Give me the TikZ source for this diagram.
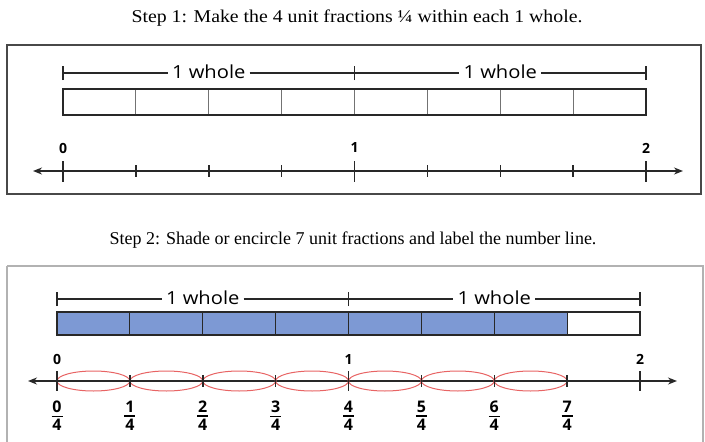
\documentclass[tikz,border=0pt]{standalone}
\usepackage{fontspec}
\setmainfont{Liberation Serif}
\newfontfamily\titlefont[FakeStretch=1.1]{Liberation Serif}
\newfontfamily\titlefontb{Liberation Serif}
\newfontfamily\labfont[FakeStretch=1.12]{Open Sans}
\newfontfamily\numfont{Open Sans}
\usetikzlibrary{arrows.meta}
\definecolor{barblue}{RGB}{125,153,212}
\definecolor{ringred}{RGB}{232,100,100}
\definecolor{linegray}{RGB}{40,40,40}
\newcommand\quarter[1]{\vbox{\hbox to 11pt{\hss#1\hss}\kern2.6pt\hrule height 1.2pt\kern2.6pt\hbox to 11pt{\hss 4\hss}}}
\begin{document}
\begin{tikzpicture}[x=1pt,y=-1pt,
  title/.style={font=\titlefont\fontsize{18}{21}\selectfont, inner sep=0pt},
  titleb/.style={font=\titlefontb\fontsize{18}{21}\selectfont, inner sep=0pt},
  panel/.style={draw=linegray!85, line width=1.8pt},
  panelb/.style={draw=black!30, line width=1.4pt},
  wholelab/.style={font=\labfont\fontsize{18}{20}\selectfont, inner xsep=4pt, inner ysep=0pt},
  ln/.style={draw=linegray, line width=1.5pt},
  thin/.style={draw=black!55, line width=1.1pt},
  arr/.style={ln, {Stealth[length=9pt,width=7pt]}-{Stealth[length=9pt,width=7pt]}},
  numlab/.style={font=\numfont\bfseries\fontsize{14}{16}\selectfont, inner sep=0pt},
  fraclab/.style={font=\numfont\bfseries\fontsize{16}{17}\selectfont, inner sep=0pt},
  ring/.style={draw=ringred, line width=1pt}]
\clip (0,0) rectangle (705,442);
\fill[white] (0,0) rectangle (705,442);

% ---------- Step 1 ----------
\node[title] (t1) at (357,18) {Step 1: Make the 4 unit fractions ¼ within each 1 whole.};
\draw[panel] (7,45) rectangle (701,194);

% bracket
\coordinate (a0) at (63,73);
\coordinate (a1) at (354.5,73);
\coordinate (a2) at (646,73);
\node[wholelab] (aw1) at (208.75,72) {1 whole};
\node[wholelab] (aw2) at (500.25,72) {1 whole};
\draw[ln] (a0) -- (aw1.west |- a0);
\draw[ln] (aw1.east |- a0) -- (a1) -- (aw2.west |- a1);
\draw[ln] (aw2.east |- a2) -- (a2);
\foreach \p in {a0,a1,a2} \draw[ln] ([yshift=-7pt]\p) -- ([yshift=7pt]\p);

% bar
\foreach \i in {1,...,7} \draw[thin] ({63+72.875*\i},89) -- ({63+72.875*\i},115);
\draw[ln] (63,89) rectangle (646,115);

% number line
\coordinate (al) at (33,171);
\coordinate (ar) at (683,171);
\draw[arr] (al) -- (ar);
\foreach \i in {1,2,3,5,6,7} \draw[ln] ({63+72.875*\i},165) -- ({63+72.875*\i},177);
\foreach \i in {0,4,8} \draw[ln] ({63+72.875*\i},161) -- ({63+72.875*\i},182);
\node[numlab] (an0) at (63,148) {0};
\node[numlab] (an1) at (354.5,148) {1};
\node[numlab] (an2) at (646,148) {2};

% ---------- Step 2 ----------
\node[titleb] (t2) at (353,240) {Step 2: Shade or encircle 7 unit fractions and label the number line.};
\draw[panelb] (7,266) -- (703,266) -- (703,460);
\draw[panelb] (7,266) -- (7,460);

% bracket
\coordinate (b0) at (57,299);
\coordinate (b1) at (348.5,299);
\coordinate (b2) at (640,299);
\node[wholelab] (bw1) at (202.75,298) {1 whole};
\node[wholelab] (bw2) at (494.25,298) {1 whole};
\draw[ln] (b0) -- (bw1.west |- b0);
\draw[ln] (bw1.east |- b0) -- (b1) -- (bw2.west |- b1);
\draw[ln] (bw2.east |- b2) -- (b2);
\foreach \p in {b0,b1,b2} \draw[ln] ([yshift=-7pt]\p) -- ([yshift=7pt]\p);

% bar
\fill[barblue] (57,312) rectangle ({57+72.875*7},335);
\foreach \i in {1,...,7} \draw[ln, line width=1.2pt] ({57+72.875*\i},312) -- ({57+72.875*\i},335);
\draw[ln] (57,312) rectangle (640,335);

% number line
\coordinate (bl) at (28,381);
\coordinate (br) at (677,381);
\draw[arr] (bl) -- (br);
\foreach \i in {0,...,6} \draw[ring] ({57+72.875*(\i+0.5)},381) ellipse (36.4 and 10);
\foreach \i in {1,2,3,5,6,7} \draw[ln] ({57+72.875*\i},375) -- ({57+72.875*\i},387);
\foreach \i in {0,4,8} \draw[ln] ({57+72.875*\i},371) -- ({57+72.875*\i},391);
\node[numlab] (bn0) at (57,359) {0};
\node[numlab] (bn1) at (348.5,359) {1};
\node[numlab] (bn2) at (640,359) {2};
\foreach \i in {0,...,7}
  \node[fraclab] (f\i) at ({57+72.875*\i},416) {\quarter{\i}};
\end{tikzpicture}
\end{document}
